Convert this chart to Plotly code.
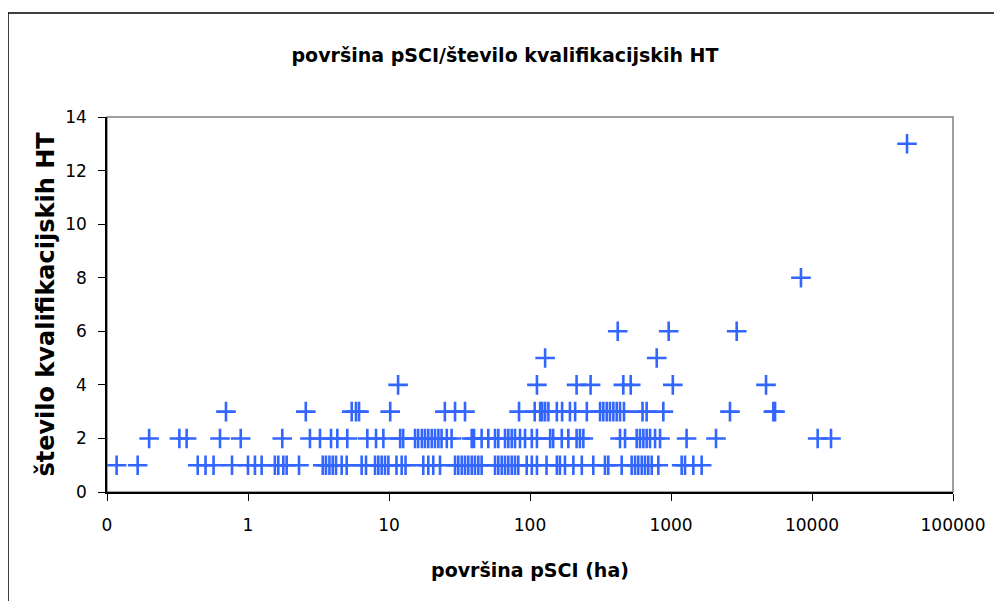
import plotly.graph_objects as go

# površina pSCI (ha) for each count of qualifying habitat types
area_1 = [0.117, 0.165, 0.44, 0.50, 0.57, 0.77, 1.0, 1.12, 1.25, 1.55, 1.64, 1.78, 1.88, 2.3,
          3.39, 3.57, 3.78, 3.99, 4.21, 4.62, 5.01, 6.4, 6.87, 7.96, 8.4, 8.87, 9.37, 9.9,
          11.3, 12.3, 13.1, 17.5, 19.0, 20.6, 23.0, 29.4, 31.0, 32.8, 34.6, 36.5, 38.6, 40.7,
          43.0, 45.4, 56.5, 59.6, 63.0, 66.5, 70.2, 74.2, 78.3, 82.6, 94.8, 103, 112, 131,
          155, 163, 177, 203, 233, 281, 340, 359, 447, 526, 556, 586, 620, 654, 690, 730,
          813, 1190, 1257, 1440, 1650]
area_2 = [0.199, 0.326, 0.367, 0.633, 0.888, 1.75, 2.75, 3.24, 3.88, 4.30, 5.06, 7.02, 8.09,
          9.12, 12.0, 12.6, 15.3, 16.1, 17.1, 18.0, 19.0, 20.1, 21.2, 22.4, 23.6, 25.7, 27.8,
          38.6, 40.1, 45.4, 50.6, 56.5, 59.6, 66.5, 70.2, 74.2, 78.3, 84.9, 92.2, 103, 112,
          139, 146, 168, 187, 214, 226, 239, 435, 472, 571, 603, 637, 672, 710, 771, 836,
          1290, 2085, 10970, 13640]
area_3 = [0.698, 2.57, 5.44, 5.83, 6.13, 10.2, 24.9, 29.4, 34.6, 83.6, 108, 118, 122, 128,
          135, 155, 169, 192, 209, 253, 314, 331, 350, 369, 390, 412, 435, 464, 628, 672,
          882, 2620, 5320, 5470]
area_4 = [11.6, 112, 214, 269, 459, 518, 1030, 4720]
area_5 = [128, 792]
area_6 = [419, 963, 2924]
area_8 = [8350]
area_13 = [47200]

groups = [(1, area_1), (2, area_2), (3, area_3), (4, area_4), (5, area_5),
          (6, area_6), (8, area_8), (13, area_13)]

xs, ys = [], []
for n, arr in groups:
    xs.extend(arr)
    ys.extend([n] * len(arr))

x_tickvals = [0.1, 1, 10, 100, 1000, 10000, 100000]
x_ticktext = ["0", "1", "10", "100", "1000", "10000", "100000"]
y_tickvals = [0, 2, 4, 6, 8, 10, 12, 14]

FONT = "DejaVu Sans"

# page body has an 8px default margin; compensate so plot area lands at x 107-953, y 117-492
L, T = 99, 109
PW, PH = 846, 375
W, H = 1002, 601
OFF = 8

fig = go.Figure()
fig.add_trace(go.Scatter(
    x=xs, y=ys, mode="markers",
    marker=dict(symbol="cross-thin", size=14, color="#3366FF",
                line=dict(color="#3366FF", width=2.6)),
    showlegend=False, cliponaxis=False,
))

fig.update_layout(
    width=W, height=H,
    margin=dict(l=L, r=W - L - PW, t=T, b=H - T - PH),
    paper_bgcolor="white", plot_bgcolor="white",
    font=dict(family=FONT, color="black", size=17),
    title=dict(text="<b>površina pSCI/število kvalifikacijskih HT</b>",
               x=(505 - OFF) / W, xanchor="center", xref="container",
               y=1 - (55 - OFF) / H, yanchor="middle",
               font=dict(family=FONT, size=19, color="black")),
    xaxis=dict(type="log", range=[-1, 5], tickvals=x_tickvals, ticktext=x_ticktext,
               showgrid=False, zeroline=False, showline=True, linecolor="black", linewidth=1.5,
               ticks="outside", ticklen=7, tickwidth=1, tickcolor="black",
               ticklabelstandoff=10, tickfont=dict(family=FONT, size=17),
               title=dict(text="<b>površina pSCI (ha)</b>", standoff=30,
                          font=dict(family=FONT, size=19))),
    yaxis=dict(range=[0, 14], tickvals=y_tickvals,
               showgrid=False, zeroline=False, showline=True, linecolor="black", linewidth=1.5,
               ticks="outside", ticklen=7, tickwidth=1, tickcolor="black",
               ticklabelstandoff=8, tickfont=dict(family=FONT, size=17),
               title=dict(text="<b>število kvalifikacijskih HT</b>", standoff=4,
                          font=dict(family=FONT, size=24))),
    shapes=[
        dict(type="rect", xref="paper", yref="paper", x0=0, x1=1, y0=0, y1=1,
             line=dict(color="#808080", width=1.5), layer="below"),
        dict(type="rect", xref="paper", yref="paper",
             x0=(8 - 107) / PW, x1=(1030 - 107) / PW,
             y0=(492 - 640) / PH, y1=(492 - 13) / PH,
             line=dict(color="black", width=1.5), layer="below"),
    ],
)

fig.write_html("out.html")
